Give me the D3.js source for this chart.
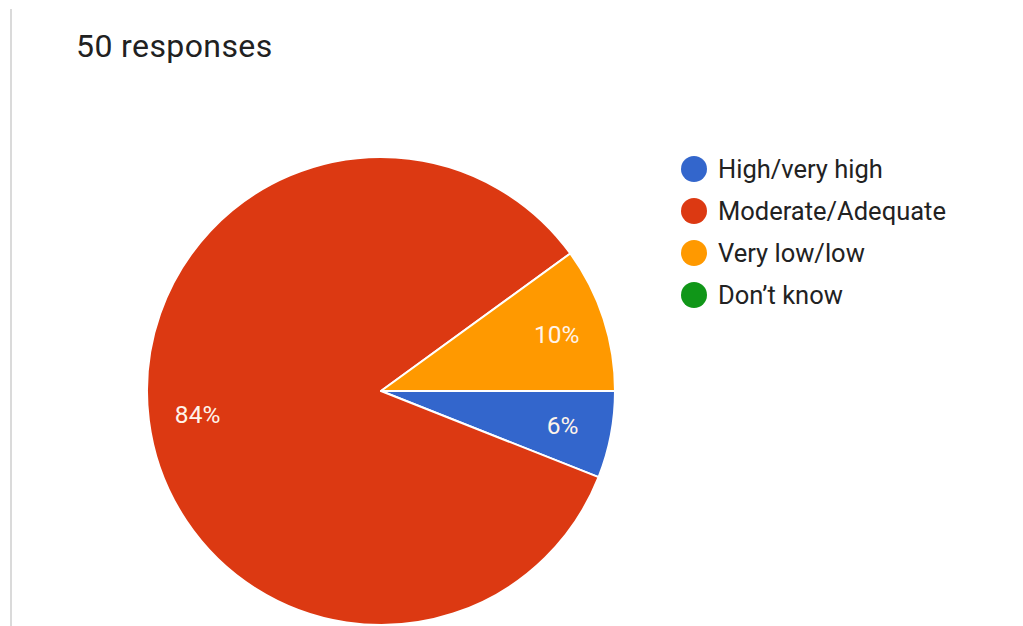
<!DOCTYPE html>
<html>
<head>
<meta charset="utf-8">
<script src="https://cdn.jsdelivr.net/npm/d3@7/dist/d3.min.js"></script>
<style>
  html, body { margin: 0; padding: 0; background: #fff; }
  svg { display: block; font-family: Roboto, "Noto Sans", sans-serif; }
</style>
</head>
<body>
<svg id="chart" width="1023" height="626"></svg>
<script>
// Survey answers (share of 50 responses, in percent)
const categories = ["High/very high", "Moderate/Adequate", "Very low/low", "Don\u2019t know"];
const values = [6, 84, 10, 0];
const colors = ["#3366cc", "#dc3912", "#ff9900", "#109618"];
const title = "50 responses";

const svg = d3.select("#chart");
const W = 1023, H = 626;

// card edge on the left
svg.append("line")
  .attr("x1", 11).attr("x2", 11).attr("y1", 9).attr("y2", H)
  .attr("stroke", "#dadada").attr("stroke-width", 2);

svg.append("text")
  .attr("x", 76).attr("y", 57)
  .attr("font-size", 32)
  .attr("letter-spacing", 0.4)
  .attr("fill", "#212121")
  .text(title);

const cx = 381, cy = 391, radius = 234;
const data = categories.map((c, i) => ({ name: c, value: values[i], color: colors[i] }));

const pie = d3.pie()
  .value(d => d.value)
  .sort(null)
  .startAngle(Math.PI / 2)
  .endAngle(Math.PI / 2 + 2 * Math.PI);

const arcs = pie(data).filter(a => a.data.value > 0);
const arc = d3.arc().innerRadius(0).outerRadius(radius);
const labelArc = d3.arc().innerRadius(radius * 0.79).outerRadius(radius * 0.79);

const g = svg.append("g").attr("transform", `translate(${cx},${cy})`);

g.selectAll("path.slice")
  .data(arcs)
  .join("path")
  .attr("class", "slice")
  .attr("d", arc)
  .attr("fill", d => d.data.color)
  .attr("stroke", "#fff")
  .attr("stroke-width", 2)
  .attr("stroke-linejoin", "round");

const total = d3.sum(values);
g.selectAll("text.pct")
  .data(arcs)
  .join("text")
  .attr("class", "pct")
  .attr("transform", d => `translate(${labelArc.centroid(d)})`)
  .attr("text-anchor", "middle")
  .attr("dy", "0.36em")
  .attr("font-size", 24.5)
  .attr("fill", "#fff4ea")
  .text(d => Math.round(d.data.value / total * 100) + "%");

// legend
const legendX = 694, legendY = 169, rowH = 42;
const lg = svg.append("g");
const rows = lg.selectAll("g.row")
  .data(data)
  .join("g")
  .attr("class", "row")
  .attr("transform", (d, i) => `translate(${legendX},${legendY + i * rowH})`);

rows.append("circle")
  .attr("r", 13)
  .attr("fill", d => d.color);

rows.append("text")
  .attr("x", 24)
  .attr("dy", "0.36em")
  .attr("font-size", 25.5)
  .attr("fill", "#222")
  .text(d => d.name);
</script>
</body>
</html>
